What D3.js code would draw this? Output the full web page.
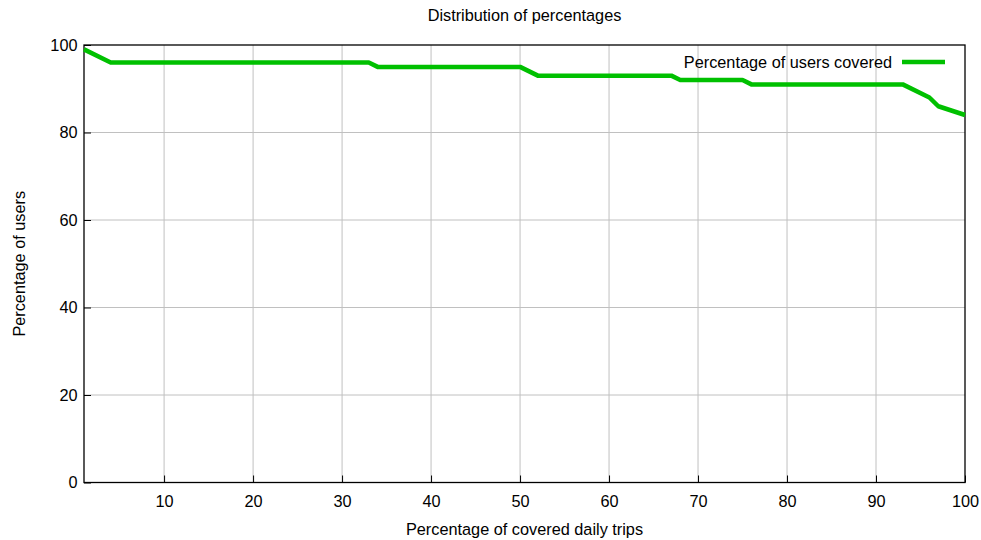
<!DOCTYPE html>
<html>
<head>
<meta charset="utf-8">
<script src="https://cdn.jsdelivr.net/npm/d3@7"></script>
<style>
  body { margin: 0; background: #fff; }
  text { font-family: "Liberation Sans", Arial, sans-serif; font-size: 16.3px; fill: #000; }
</style>
</head>
<body>
<div id="chart"></div>
<script>
// breakpoints of the curve
const tripPct = [1, 4, 33, 34, 50, 52, 67, 68, 75, 76, 93, 96, 97, 100]
const userPct = [99, 96, 96, 95, 95, 93, 93, 92, 92, 91, 91, 88, 86, 84]
const xTicks = [10, 20, 30, 40, 50, 60, 70, 80, 90, 100]
const yTicks = [0, 20, 40, 60, 80, 100]

const W = 981
const H = 540
const margin = { top: 45, right: 16, bottom: 57.5, left: 84 }
const width = W - margin.left - margin.right
const height = H - margin.top - margin.bottom
const fontSize = '16.3px'

const svg = d3.select('#chart')
  .append('svg')
  .attr('width', W)
  .attr('height', H)

const g = svg.append('g')
  .attr('transform', 'translate(' + margin.left + ',' + margin.top + ')')

const x = d3.scaleLinear().domain([1, 100]).range([0, width])
const y = d3.scaleLinear().domain([0, 100]).range([height, 0])

// grid
g.selectAll('.vgrid')
  .data(xTicks.filter(d => d < 100))
  .enter()
  .append('line')
  .attr('x1', d => x(d)).attr('x2', d => x(d))
  .attr('y1', 0).attr('y2', height)
  .attr('stroke', '#c0c0c0')
  .attr('stroke-width', 1)

g.selectAll('.hgrid')
  .data(yTicks.filter(d => d > 0 && d < 100))
  .enter()
  .append('line')
  .attr('x1', 0).attr('x2', width)
  .attr('y1', d => y(d)).attr('y2', d => y(d))
  .attr('stroke', '#c0c0c0')
  .attr('stroke-width', 1)

// axes, gnuplot style: short inward ticks
const xAxis = g.append('g')
  .attr('transform', 'translate(0,' + height + ')')
  .call(d3.axisBottom(x).tickValues(xTicks).tickSize(-7).tickPadding(12.5))
xAxis.select('.domain').remove()
xAxis.selectAll('text').style('font-size', fontSize).style('font-family', '"Liberation Sans", Arial, sans-serif')

const yAxis = g.append('g')
  .call(d3.axisLeft(y).tickValues(yTicks).tickSize(-7).tickPadding(6.5))
yAxis.select('.domain').remove()
yAxis.selectAll('text').style('font-size', fontSize).style('font-family', '"Liberation Sans", Arial, sans-serif')

// border
g.append('rect')
  .attr('width', width)
  .attr('height', height)
  .attr('fill', 'none')
  .attr('stroke', '#000')
  .attr('stroke-width', 1.3)

// the curve
const line = d3.line()
  .x(d => x(d[0]))
  .y(d => y(d[1]))

g.append('path')
  .datum(d3.zip(tripPct, userPct))
  .attr('d', line)
  .attr('fill', 'none')
  .attr('stroke', '#00c000')
  .attr('stroke-width', 4.5)
  .attr('stroke-linejoin', 'round')

// legend
g.append('text')
  .attr('x', 808)
  .attr('y', 17)
  .attr('dy', '0.35em')
  .attr('text-anchor', 'end')
  .text('Percentage of users covered')

g.append('line')
  .attr('x1', 818).attr('x2', 861)
  .attr('y1', 17).attr('y2', 17)
  .attr('stroke', '#00c000')
  .attr('stroke-width', 4.5)

// titles
svg.append('text')
  .attr('x', margin.left + width / 2)
  .attr('y', 20.5)
  .attr('text-anchor', 'middle')
  .text('Distribution of percentages')

svg.append('text')
  .attr('x', margin.left + width / 2)
  .attr('y', 535)
  .attr('text-anchor', 'middle')
  .text('Percentage of covered daily trips')

svg.append('text')
  .attr('transform', 'translate(24.5,' + (margin.top + height / 2) + ') rotate(-90)')
  .attr('text-anchor', 'middle')
  .text('Percentage of users')
</script>
</body>
</html>
